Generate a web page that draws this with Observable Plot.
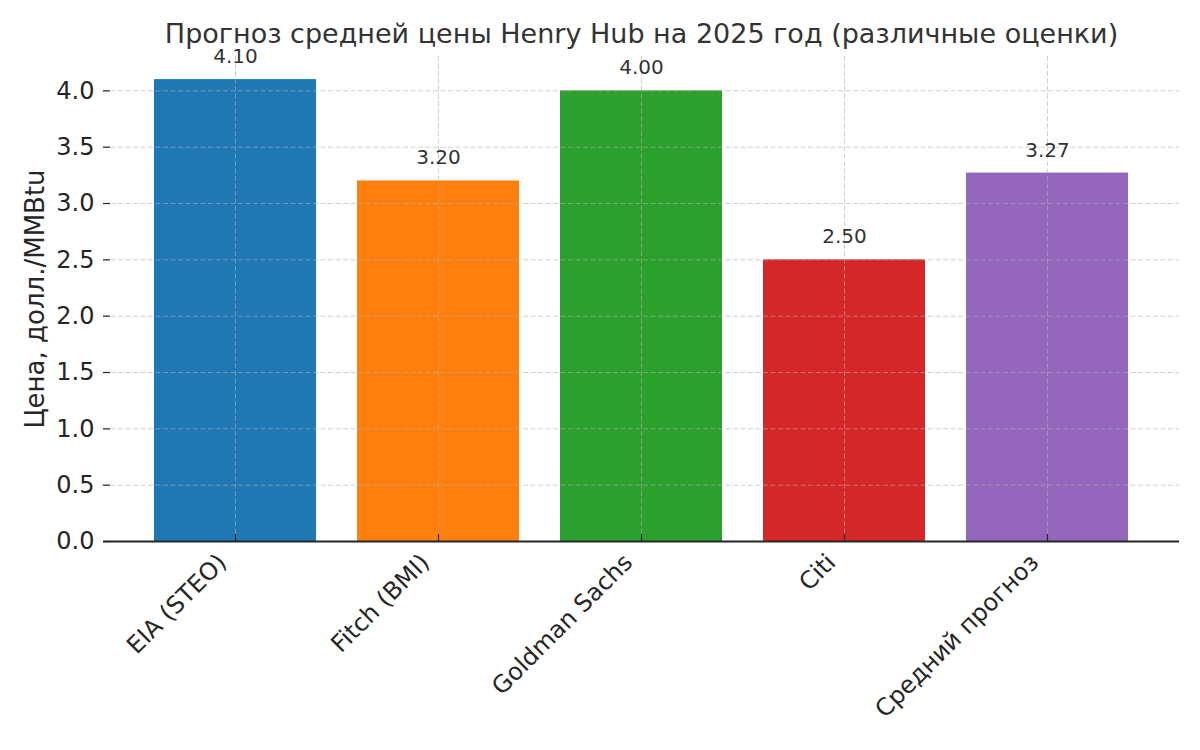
<!DOCTYPE html>
<html>
<head>
<meta charset="utf-8">
<script src="https://cdn.jsdelivr.net/npm/d3@7"></script>
<script src="https://cdn.jsdelivr.net/npm/@observablehq/plot@0.6"></script>
<style>
  html, body { margin: 0; padding: 0; background: #fff; }
  #chart svg { display: block; }
</style>
</head>
<body>
<div id="chart"></div>
<script>
const categories = ["EIA (STEO)", "Fitch (BMI)", "Goldman Sachs", "Citi", "Средний прогноз"];
const values = [4.10, 3.20, 4.00, 2.50, 3.27];
const colors = ["#1f77b4", "#ff7f0e", "#2ca02c", "#d62728", "#9467bd"];
const yTicks = [0, 0.5, 1.0, 1.5, 2.0, 2.5, 3.0, 3.5, 4.0];
const titleText = "Прогноз средней цены Henry Hub на 2025 год (различные оценки)";
const yLabel = "Цена, долл./MMBtu";

const data = categories.map((c, i) => ({cat: c, value: values[i], color: colors[i]}));
const font = "DejaVu Sans";
const textColor = "#262626";

const chart = Plot.plot({
  width: 1200,
  height: 750,
  marginTop: 56,
  marginBottom: 209,
  marginLeft: 103,
  marginRight: 21,
  style: {fontFamily: font, background: "#fff"},
  x: {type: "band", domain: categories, paddingInner: 0.2, paddingOuter: 0.24},
  y: {domain: [0, 4.305]},
  marks: [
    Plot.barY(data, {x: "cat", y: "value", fill: "color"}),
    // grid
    Plot.gridY(yTicks, {stroke: "#b0b0b0", strokeOpacity: 0.6, strokeDasharray: "5,2.5", strokeWidth: 1}),
    Plot.gridX(categories, {stroke: "#b0b0b0", strokeOpacity: 0.6, strokeDasharray: "5,2.5", strokeWidth: 1}),
    // y axis: labels
    Plot.axisY(yTicks, {tickSize: 0, tickPadding: 9, tickFormat: d3.format(".1f"), fontSize: 24, fill: textColor, label: null}),
    // y axis: inward ticks
    Plot.axisY(yTicks, {tickSize: -7, text: null, stroke: textColor, strokeWidth: 1.2, label: null}),
    // x axis: inward ticks
    Plot.axisX(categories, {tickSize: -7, text: null, stroke: textColor, strokeWidth: 1.2, label: null}),
    // spines
    Plot.ruleX([0], {x: () => undefined, frameAnchor: "left", stroke: textColor, strokeWidth: 1.8}),
    Plot.ruleY([0], {stroke: textColor, strokeWidth: 1.8}),
    // x tick labels rotated
    Plot.text(categories, {x: d => d, frameAnchor: "bottom", rotate: -45, textAnchor: "end", lineAnchor: "middle", dx: -13, dy: 17, fontSize: 24, fill: textColor}),
    // value labels
    Plot.text(data, {x: "cat", y: "value", text: d => d.value.toFixed(2), dy: -23, lineAnchor: "middle", fontSize: 20, fill: "#333"}),
    // title
    Plot.text([titleText], {frameAnchor: "top", dy: -22, lineAnchor: "middle", fontSize: 27, fill: "#333"}),
    // y label
    Plot.text([yLabel], {frameAnchor: "left", dx: -68, rotate: -90, textAnchor: "middle", lineAnchor: "middle", fontSize: 26, fill: textColor})
  ]
});
document.getElementById("chart").appendChild(chart);
</script>
</body>
</html>
